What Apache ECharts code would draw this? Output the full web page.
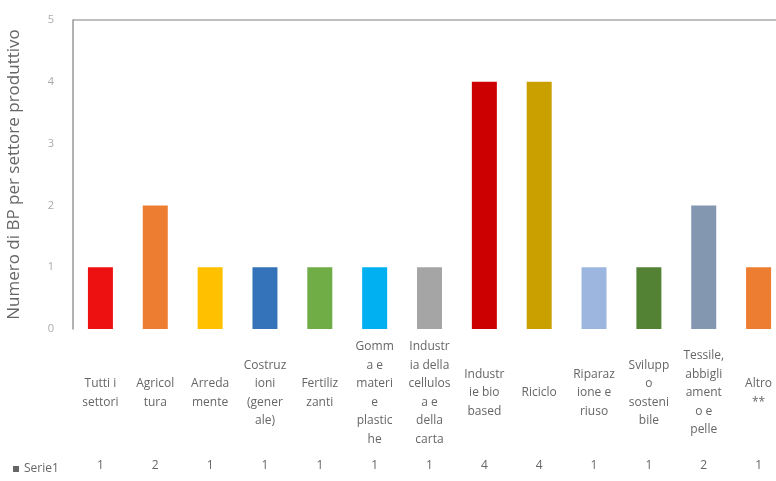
<!DOCTYPE html>
<html>
<head>
<meta charset="utf-8">
<script src="https://cdn.jsdelivr.net/npm/echarts@6/dist/echarts.min.js"></script>
<style>html,body{margin:0;padding:0;background:#fff}#c{width:776px;height:481px}</style>
</head>
<body>
<div id="c"></div>
<script>
const categories = [
  "Tutti i\nsettori",
  "Agricol\ntura",
  "Arreda\nmente",
  "Costruz\nioni\n(gener\nale)",
  "Fertiliz\nzanti",
  "Gomm\na e\nmateri\ne\nplastic\nhe",
  "Industr\nia della\ncellulos\na e\ndella\ncarta",
  "Industr\nie bio\nbased",
  "Riciclo",
  "Riparaz\nione e\nriuso",
  "Svilupp\no\nsosteni\nbile",
  "Tessile,\nabbigli\nament\no e\npelle",
  "Altro\n**"
];
const serie1 = [1, 2, 1, 1, 1, 1, 1, 4, 4, 1, 1, 2, 1];
const yTicks = [0, 1, 2, 3, 4, 5];
const barColors = ["#EE1111","#ED7D31","#FFC000","#3473BA","#70AD47","#00B0F0","#A5A5A5","#CC0000","#C9A000","#9DB6E0","#548235","#8497B0","#ED7D31"];

const chart = echarts.init(document.getElementById('c'));
const font = 'Open Sans';
chart.setOption({
  animation: false,
  grid: { left: 73, top: 20, width: 713, height: 309, containLabel: false, outerBoundsMode: 'none' },
  legend: {
    data: ['Serie1'], left: 8, top: 458, icon: 'rect', itemWidth: 6, itemHeight: 6, itemGap: 4,
    itemStyle: { color: '#666' },
    textStyle: { color: '#666', fontSize: 12, fontFamily: font }
  },
  xAxis: [
    {
      type: 'category', data: categories, position: 'bottom',
      axisLine: { show: false }, axisTick: { show: false },
      axisLabel: { interval: 0, color: '#666', fontSize: 12, fontFamily: font, lineHeight: 18.5, margin: 64, verticalAlign: 'middle' }
    },
    {
      type: 'category', data: serie1.map(String), position: 'bottom',
      axisLine: { show: false }, axisTick: { show: false },
      axisLabel: { interval: 0, color: '#666', fontSize: 12, fontFamily: font, margin: 137, verticalAlign: 'middle' }
    }
  ],
  yAxis: {
    type: 'value', min: 0, max: 5, interval: 1,
    name: 'Numero di BP per settore produttivo', nameLocation: 'middle', nameGap: 50,
    nameTextStyle: { color: '#666', fontSize: 17, fontFamily: font },
    axisLine: { show: true, lineStyle: { color: '#999', width: 1.5 } },
    axisTick: { show: false },
    axisLabel: { color: '#aaa', fontSize: 11, fontFamily: font, margin: 19, formatter: v => yTicks.includes(v) ? String(v) : '' },
    splitLine: { show: true, lineStyle: { color: ['transparent','transparent','transparent','transparent','transparent','#aaa'], width: 1.5 } }
  },
  series: [{
    name: 'Serie1', type: 'bar', barWidth: 25, xAxisIndex: 0,
    data: serie1.map((v, i) => ({ value: v, itemStyle: { color: barColors[i] } }))
  }]
});
</script>
</body>
</html>
